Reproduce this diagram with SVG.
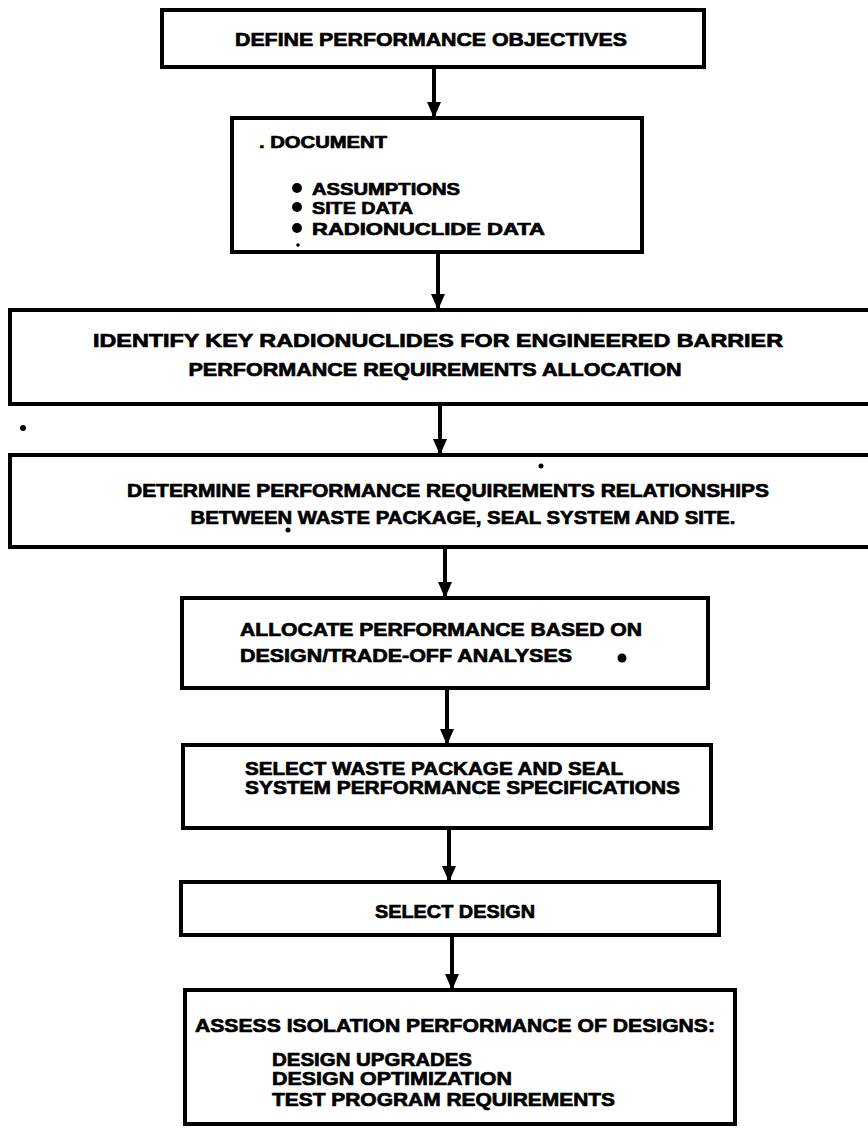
<svg xmlns="http://www.w3.org/2000/svg" width="868" height="1132" viewBox="0 0 868 1132">
<defs>
<style>
.box{fill:#fff;stroke:#000;stroke-width:4}
.t{font-family:"Liberation Sans",Arial,sans-serif;font-weight:bold;font-size:19px;fill:#000;stroke:#000;stroke-width:0.7}
.s{font-size:17px}
.c{stroke:#000;stroke-width:4;fill:none}
</style>
<marker id="ah" viewBox="0 0 16 14" refX="15" refY="7" markerWidth="16" markerHeight="14" orient="auto" markerUnits="userSpaceOnUse">
<path d="M0,0 L16,7 L0,14 z" fill="#000"/>
</marker>
</defs>
<rect width="868" height="1132" fill="#fff"/>
<g id="connectors">
<line class="c" x1="434" y1="67" x2="434" y2="117" marker-end="url(#ah)"/>
<line class="c" x1="438" y1="252" x2="438" y2="309" marker-end="url(#ah)"/>
<line class="c" x1="440" y1="404" x2="440" y2="454" marker-end="url(#ah)"/>
<line class="c" x1="445" y1="547" x2="445" y2="597" marker-end="url(#ah)"/>
<line class="c" x1="447" y1="688" x2="447" y2="744" marker-end="url(#ah)"/>
<line class="c" x1="449" y1="828" x2="449" y2="881" marker-end="url(#ah)"/>
<line class="c" x1="452" y1="935" x2="452" y2="989" marker-end="url(#ah)"/>
</g>
<g id="n1">
<rect class="box" x="162" y="10" width="542" height="57"/>
<text class="t" x="235" y="46" font-size="20" textLength="392" lengthAdjust="spacingAndGlyphs">DEFINE PERFORMANCE OBJECTIVES</text>
</g>
<g id="n2">
<rect class="box" x="232" y="118" width="410" height="134"/>
<text class="t s" x="259" y="148" textLength="128" lengthAdjust="spacingAndGlyphs">. DOCUMENT</text>
<circle cx="297" cy="188" r="5"/>
<circle cx="297" cy="207" r="5"/>
<circle cx="297" cy="228" r="5"/>
<text class="t s" x="312" y="195" textLength="148" lengthAdjust="spacingAndGlyphs">ASSUMPTIONS</text>
<text class="t s" x="312" y="214" textLength="101" lengthAdjust="spacingAndGlyphs">SITE DATA</text>
<text class="t s" x="312" y="235" textLength="233" lengthAdjust="spacingAndGlyphs">RADIONUCLIDE DATA</text>
<circle cx="298" cy="245" r="1.8"/>
</g>
<g id="n3">
<rect class="box" x="10" y="310" width="870" height="94"/>
<text class="t" x="438" y="347" text-anchor="middle" textLength="690" lengthAdjust="spacingAndGlyphs">IDENTIFY KEY RADIONUCLIDES  FOR ENGINEERED BARRIER</text>
<text class="t" x="435" y="376" text-anchor="middle" textLength="493" lengthAdjust="spacingAndGlyphs">PERFORMANCE REQUIREMENTS ALLOCATION</text>
</g>
<circle cx="23" cy="428" r="3"/>
<g id="n4">
<rect class="box" x="10" y="455" width="870" height="92"/>
<circle cx="541" cy="466" r="2.5"/>
<text class="t" x="448" y="497" text-anchor="middle" textLength="642" lengthAdjust="spacingAndGlyphs">DETERMINE PERFORMANCE REQUIREMENTS  RELATIONSHIPS</text>
<text class="t" x="463" y="524" text-anchor="middle" textLength="545" lengthAdjust="spacingAndGlyphs">BETWEEN WASTE PACKAGE,  SEAL SYSTEM AND SITE.</text>
<circle cx="288" cy="530" r="2.5"/>
</g>
<g id="n5">
<rect class="box" x="182" y="598" width="526" height="90"/>
<text class="t" x="240" y="636" textLength="402" lengthAdjust="spacingAndGlyphs">ALLOCATE PERFORMANCE BASED ON</text>
<text class="t" x="240" y="662" textLength="332" lengthAdjust="spacingAndGlyphs">DESIGN/TRADE-OFF ANALYSES</text>
<circle cx="622" cy="658" r="4.5"/>
</g>
<g id="n6">
<rect class="box" x="183" y="745" width="528" height="83"/>
<text class="t" x="245" y="775" textLength="378" lengthAdjust="spacingAndGlyphs">SELECT WASTE PACKAGE AND SEAL</text>
<text class="t" x="245" y="794" textLength="435" lengthAdjust="spacingAndGlyphs">SYSTEM PERFORMANCE SPECIFICATIONS</text>
</g>
<g id="n7">
<rect class="box" x="181" y="882" width="538" height="53"/>
<text class="t" x="375" y="918" textLength="160" lengthAdjust="spacingAndGlyphs">SELECT DESIGN</text>
</g>
<g id="n8">
<rect class="box" x="185" y="990" width="550" height="134"/>
<text class="t" x="195" y="1032" textLength="520" lengthAdjust="spacingAndGlyphs">ASSESS ISOLATION PERFORMANCE OF DESIGNS:</text>
<text class="t" x="272" y="1066" textLength="200" lengthAdjust="spacingAndGlyphs">DESIGN UPGRADES</text>
<text class="t" x="272" y="1085" textLength="240" lengthAdjust="spacingAndGlyphs">DESIGN OPTIMIZATION</text>
<text class="t" x="272" y="1106" textLength="343" lengthAdjust="spacingAndGlyphs">TEST PROGRAM REQUIREMENTS</text>
</g>
</svg>
